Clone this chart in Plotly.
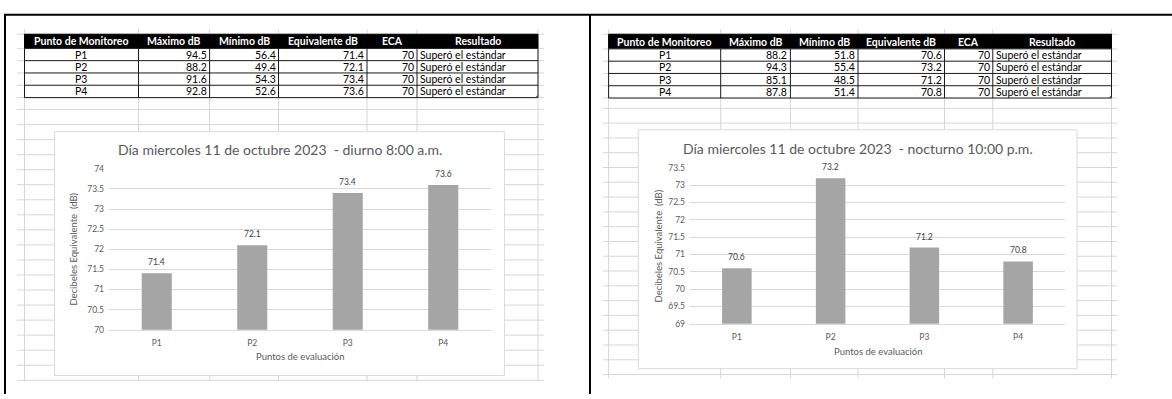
import plotly.graph_objects as go

W, H = 1172, 399

# ---- data -------------------------------------------------------------
puntos = ["P1", "P2", "P3", "P4"]
encabezados = ["Punto de Monitoreo", "Máximo dB", "Mínimo dB", "Equivalente dB", "ECA", "Resultado"]

diurno_maximo = [94.5, 88.2, 91.6, 92.8]
diurno_minimo = [56.4, 49.4, 54.3, 52.6]
diurno_equivalente = [71.4, 72.1, 73.4, 73.6]

nocturno_maximo = [88.2, 94.3, 85.1, 87.8]
nocturno_minimo = [51.8, 55.4, 48.5, 51.4]
nocturno_equivalente = [70.6, 73.2, 71.2, 70.8]

eca = [70, 70, 70, 70]
resultado = ["Superó el estándar"] * 4

titulo_diurno = "Día miercoles 11 de octubre 2023\u00a0\u00a0- diurno 8:00 a.m."
titulo_nocturno = "Día miercoles 11 de octubre 2023\u00a0\u00a0- nocturno 10:00 p.m."
titulo_eje_x = "Puntos de evaluación"
titulo_eje_y = "Decibeles Equivalente\u00a0\u00a0(dB)"

# ---- styling ----------------------------------------------------------
FONT = "Lato"
GRIS_TEXTO = "#595959"
GRIS_ETIQUETA = "#404040"
GRIS_BARRA = "#a5a5a5"
GRIS_REJILLA = "#d9d9d9"
GRIS_HOJA = "#d6d6d6"


def px(x):
    return x / W


def py(y):
    return 1 - y / H


# page geometry (pixels) for the two worksheet captures
paneles = [
    dict(
        maximo=diurno_maximo, minimo=diurno_minimo, equivalente=diurno_equivalente,
        titulo=titulo_diurno,
        columnas=[24.5, 138.5, 209.6, 278.5, 367.0, 417.0, 538.0],
        filas=[30.0, 44.5, 57.1, 69.7, 82.3, 95.0],
        hoja_x=(17, 544), hoja_y=(25, 386),
        hoja_filas=[107.2 + 15.43 * k for k in range(19)],
        caja=(54.6, 130, 504.4, 380),
        area=(109, 168, 491, 333),
        rango=(70, 74),
        titulo_y=148, eje_x_y=361, eje_y_x=73.4,
    ),
    dict(
        maximo=nocturno_maximo, minimo=nocturno_minimo, equivalente=nocturno_equivalente,
        titulo=titulo_nocturno,
        columnas=[608.6, 720.7, 790.4, 858.0, 944.5, 992.8, 1111.5],
        filas=[30.0, 45.0, 57.6, 70.2, 82.8, 95.4],
        hoja_x=(603, 1117), hoja_y=(25, 383),
        hoja_filas=[106.0 + 15.17 * k for k in range(19)],
        caja=(638.3, 128, 1077, 373),
        area=(690, 167, 1065, 327),
        rango=(69, 73.5),
        titulo_y=147, eje_x_y=355, eje_y_x=658.7,
    ),
]

fig = go.Figure()
shapes = []
annotations = []


def linea(x0, y0, x1, y1, color, width=1):
    shapes.append(dict(type="line", xref="paper", yref="paper",
                       x0=px(x0), y0=py(y0), x1=px(x1), y1=py(y1),
                       line=dict(color=color, width=width), layer="below"))


def texto(x, y, t, size, color, xanchor="center", bold=False, angle=0):
    annotations.append(dict(
        xref="paper", yref="paper", x=px(x), y=py(y), text=f"<b>{t}</b>" if bold else t,
        showarrow=False, xanchor=xanchor, yanchor="middle", textangle=angle,
        font=dict(family=FONT, size=size, color=color)))


for i, p in enumerate(paneles):
    cols = p["columnas"]
    filas = p["filas"]

    # worksheet cell grid
    todas_filas = filas + p["hoja_filas"]
    for y in todas_filas:
        linea(p["hoja_x"][0], y, p["hoja_x"][1], y, GRIS_HOJA)
    for x in cols:
        linea(x, p["hoja_y"][0], x, p["hoja_y"][1], GRIS_HOJA)

    # table: header band and body
    shapes.append(dict(type="rect", xref="paper", yref="paper",
                       x0=px(cols[0]), x1=px(cols[-1]), y0=py(filas[1]), y1=py(filas[0]),
                       fillcolor="#000000", line=dict(color="#000000", width=1), layer="below"))
    shapes.append(dict(type="rect", xref="paper", yref="paper",
                       x0=px(cols[0]), x1=px(cols[-1]), y0=py(filas[-1]), y1=py(filas[1]),
                       fillcolor="#ffffff", line=dict(width=0), layer="below"))
    for y in filas[1:]:
        linea(cols[0], y, cols[-1], y, "#1a1a1a")
    for x in cols:
        linea(x, filas[1], x, filas[-1], "#1a1a1a")
    # table resize handle
    xe, ye = cols[-1], filas[-1]
    shapes.append(dict(type="path", xref="paper", yref="paper",
                       path=f"M {px(xe - 3)} {py(ye)} L {px(xe)} {py(ye)} L {px(xe)} {py(ye - 3)} Z",
                       fillcolor="#3c5a96", line=dict(width=0), layer="above"))

    yc_head = (filas[0] + filas[1]) / 2
    for k, h in enumerate(encabezados):
        texto((cols[k] + cols[k + 1]) / 2, yc_head, h, 10.5, "#ffffff", bold=True)

    columnas_valores = [
        (puntos, "center", "{}"),
        (p["maximo"], "right", "{:.1f}"),
        (p["minimo"], "right", "{:.1f}"),
        (p["equivalente"], "right", "{:.1f}"),
        (eca, "right", "{}"),
        (resultado, "left", "{}"),
    ]
    for k, (vals, al, fmt) in enumerate(columnas_valores):
        if al == "center":
            xt, anc = (cols[k] + cols[k + 1]) / 2, "center"
        elif al == "right":
            xt, anc = cols[k + 1] - 1, "right"
        else:
            xt, anc = cols[k] + 1, "left"
        for r, v in enumerate(vals):
            yc = (filas[r + 1] + filas[r + 2]) / 2
            texto(xt, yc, fmt.format(v), 10.5, "#000000", xanchor=anc)

    # chart area box
    c0, c1, c2, c3 = p["caja"]
    shapes.append(dict(type="rect", xref="paper", yref="paper",
                       x0=px(c0), x1=px(c2), y0=py(c3), y1=py(c1),
                       fillcolor="#ffffff", line=dict(color=GRIS_REJILLA, width=1), layer="below"))

    a0, a1, a2, a3 = p["area"]
    sfx = "" if i == 0 else str(i + 1)
    xa, ya = "x" + sfx, "y" + sfx

    fig.add_trace(go.Bar(
        x=puntos, y=p["equivalente"], marker=dict(color=GRIS_BARRA, line=dict(width=0)),
        xaxis=xa, yaxis=ya, hoverinfo="skip", showlegend=False,
    ))
    for cat, val in zip(puntos, p["equivalente"]):
        annotations.append(dict(
            xref=xa, yref=ya, x=cat, y=val, text=f"{val:.1f}", showarrow=False,
            yanchor="bottom", yshift=4, font=dict(family=FONT, size=8.5, color=GRIS_ETIQUETA)))

    fig.layout["xaxis" + sfx] = dict(
        domain=[px(a0), px(a2)], anchor=ya, showgrid=False, zeroline=False,
        showline=True, linecolor=GRIS_REJILLA, linewidth=1, ticks="", ticklabelstandoff=5,
        tickfont=dict(family=FONT, size=8.5, color=GRIS_TEXTO), fixedrange=True,
    )
    fig.layout["yaxis" + sfx] = dict(
        domain=[py(a3), py(a1)], anchor=xa, range=list(p["rango"]), dtick=0.5,
        tick0=p["rango"][0], showgrid=True, gridcolor=GRIS_REJILLA, gridwidth=1,
        zeroline=False, showline=False, ticks="", ticklabelstandoff=4,
        tickfont=dict(family=FONT, size=8.5, color=GRIS_TEXTO), fixedrange=True,
    )

    # chart and axis titles
    texto((c0 + c2) / 2, p["titulo_y"], p["titulo"], 14, GRIS_TEXTO)
    texto((a0 + a2) / 2, p["eje_x_y"], titulo_eje_x, 9.5, GRIS_TEXTO)
    texto(p["eje_y_x"], (a1 + a3) / 2, titulo_eje_y, 9.5, GRIS_TEXTO, angle=-90)

# frame around both captures
for (x0, y0, x1, y1) in [(4, 10, W, 10), (5, 10, 5, H), (590, 10, 590, H)]:
    shapes.append(dict(type="line", xref="paper", yref="paper",
                       x0=px(x0), y0=py(y0), x1=px(x1), y1=py(y1),
                       line=dict(color="#000000", width=2), layer="above"))

fig.update_layout(
    width=W, height=H, autosize=False,
    margin=dict(l=0, r=0, t=0, b=0, pad=0),
    paper_bgcolor="#ffffff", plot_bgcolor="rgba(0,0,0,0)",
    bargap=0.685, showlegend=False,
    font=dict(family=FONT, color=GRIS_TEXTO),
    shapes=shapes, annotations=annotations,
)

fig.write_html("out.html", config={"displayModeBar": False})
